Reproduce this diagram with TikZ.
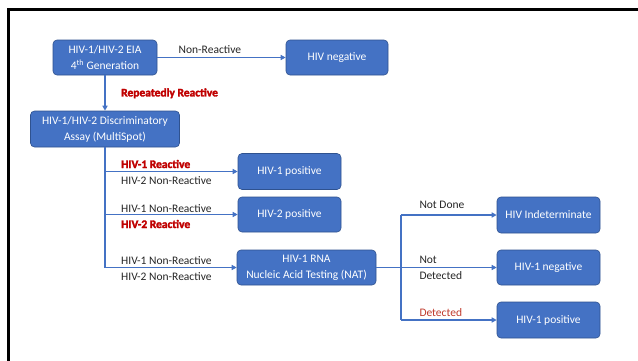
\documentclass[tikz,border=0pt]{standalone}
\usepackage{fontspec}
\setmainfont{Carlito}
\newfontfamily\heavyfont[FakeBold=2.5]{Carlito Bold}
\usetikzlibrary{arrows.meta}
\definecolor{boxblue}{HTML}{4472C4}
\definecolor{boxedge}{HTML}{2F528F}
\definecolor{darkred}{HTML}{C00000}
\definecolor{lightred}{HTML}{C0392B}
\definecolor{txt}{HTML}{262626}
\tikzset{
  stepbox/.style={draw=boxedge, line width=0.6pt, fill=boxblue, rounded corners=4pt,
    text=white, align=center, inner sep=0pt,
    font=\fontsize{11.5}{16}\selectfont},
  conn/.style={draw=boxblue, line width=1.6pt},
  arr/.style={conn, -{Triangle[length=5pt,width=5pt]}},
  lbl/.style={anchor=base west, inner sep=0pt, text=txt, font=\fontsize{11.5}{14}\selectfont},
  redlbl/.style={anchor=base west, inner sep=0pt, text=darkred, font=\fontsize{11.5}{14}\heavyfont},
  redthin/.style={anchor=base west, inner sep=0pt, text=lightred, font=\fontsize{11.5}{14}\selectfont}
}
\begin{document}
\begin{tikzpicture}[x=1pt,y=-1pt]
\useasboundingbox (0,0) rectangle (638,360);
\clip (0,0) rectangle (638,360);
\fill[white] (0,0) rectangle (638,360);
\draw[line width=3pt] (8.5,365) -- (8.5,9.5) -- (645,9.5);

\node[stepbox, minimum width=104pt, minimum height=35pt] (eia) at (105,57.5) {HIV-1/HIV-2 EIA\\4\textsuperscript{th} Generation};
\node[stepbox, minimum width=102pt, minimum height=35pt] (neg) at (337,57.5) {HIV negative};
\node[stepbox, minimum width=149pt, minimum height=36pt] (disc) at (105,129) {HIV-1/HIV-2 Discriminatory\\Assay (MultiSpot)};
\node[stepbox, minimum width=103pt, minimum height=36pt] (p1) at (289.5,171.5) {HIV-1 positive};
\node[stepbox, minimum width=103pt, minimum height=35pt] (p2) at (289.5,214.5) {HIV-2 positive};
\node[stepbox, minimum width=139pt, minimum height=35pt] (nat) at (306.5,267.5) {HIV-1 RNA\\Nucleic Acid Testing (NAT)};
\node[stepbox, minimum width=103pt, minimum height=36pt] (ind) at (548.5,215) {HIV Indeterminate};
\node[stepbox, minimum width=103pt, minimum height=35pt] (neg1) at (548.5,267.5) {HIV-1 negative};
\node[stepbox, minimum width=103pt, minimum height=36pt] (pos1) at (548.5,320) {HIV-1 positive};

\draw[arr] (eia.east) -- (neg.west);
\draw[arr] (eia.south) -- (disc.north);
\draw[conn] (disc.south) -- (disc.south |- nat.west);
\draw[arr] (disc.south |- p1.west) -- (p1.west);
\draw[arr] (disc.south |- p2.west) -- (p2.west);
\draw[arr] (disc.south |- nat.west) -- (nat.west);

\coordinate (jx) at (401,267.5);
\draw[arr] (nat.east) -- (neg1.west);
\draw[conn] (jx |- ind.west) -- (jx |- pos1.west);
\draw[arr] (jx |- ind.west) -- (ind.west);
\draw[arr] (jx |- pos1.west) -- (pos1.west);

\node[lbl] (l0) at (178.5,53.7) {Non-Reactive};
\node[redlbl] (l1) at (121,96.4) {Repeatedly Reactive};
\node[redlbl] (l2) at (121,168) {HIV-1 Reactive};
\node[lbl] (l3) at (121,184.7) {HIV-2 Non-Reactive};
\node[lbl] (l4) at (121,212.7) {HIV-1 Non-Reactive};
\node[redlbl] (l5) at (121,228) {HIV-2 Reactive};
\node[lbl] (l6) at (121,264.4) {HIV-1 Non-Reactive};
\node[lbl] (l7) at (121,280.4) {HIV-2 Non-Reactive};
\node[lbl] (l8) at (419.3,208) {Not Done};
\node[lbl] (l9) at (419.3,263.7) {Not};
\node[lbl] (l10) at (419.3,279.4) {Detected};
\node[redthin] (l11) at (419.3,316.4) {Detected};
\end{tikzpicture}
\end{document}
